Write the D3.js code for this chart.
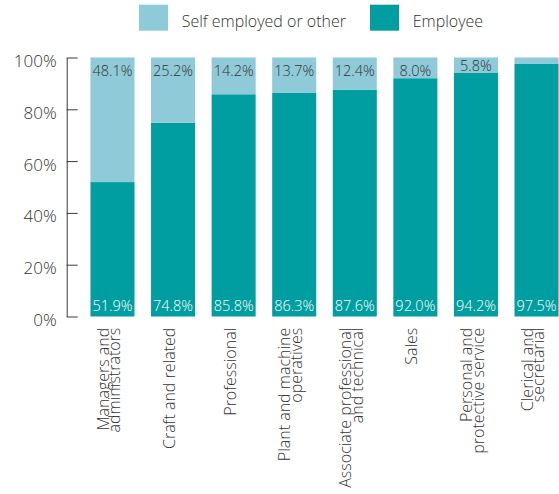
<!DOCTYPE html>
<html>
<head>
<meta charset="utf-8">
<script src="https://cdn.jsdelivr.net/npm/d3@7"></script>
<style>
  html, body { margin: 0; padding: 0; background: #ffffff; }
  svg { display: block; font-family: "Open Sans", "Noto Sans", sans-serif; font-weight: 300; }
</style>
</head>
<body>
<svg id="chart" width="559" height="494"></svg>
<script>
// Occupation groups, each split into lines for the rotated labels
const categories = [
  ["Managers and", "administrators"],
  ["Craft and related"],
  ["Professional"],
  ["Plant and machine", "operatives"],
  ["Associate professional", "and technical"],
  ["Sales"],
  ["Personal and", "protective service"],
  ["Clerical and", "secretarial"]
];

// Share of each group (%)
const employee     = [51.9, 74.8, 85.8, 86.3, 87.6, 92.0, 94.2, 97.5];
const selfEmployed = [48.1, 25.2, 14.2, 13.7, 12.4, 8.0, 5.8, 2.5];
// Value labels on the light segments (the last one has none)
const selfLabels     = ["48.1%", "25.2%", "14.2%", "13.7%", "12.4%", "8.0%", "5.8%", ""];
const employeeLabels = ["51.9%", "74.8%", "85.8%", "86.3%", "87.6%", "92.0%", "94.2%", "97.5%"];

const yTicks = [0, 20, 40, 60, 80, 100];
const seriesNames = ["Self employed or other", "Employee"];
const colors = { self: "#8ecad8", emp: "#009ea0" };

const svg = d3.select("#chart");
const keys = categories.map(c => c.join(" "));

const x = d3.scaleBand()
  .domain(keys)
  .range([82.2, 566.8])
  .paddingInner(0.273)
  .paddingOuter(0.1365);

const y = d3.scaleLinear().domain([0, 100]).range([316.5, 57.5]);

// Y axis with inward-pointing ticks
const yAxis = d3.axisLeft(y)
  .tickValues(yTicks)
  .tickFormat(d => d + "%")
  .tickSizeInner(-11)
  .tickSizeOuter(0)
  .tickPadding(10);

const gy = svg.append("g")
  .attr("transform", "translate(66.7,0)")
  .call(yAxis);
gy.selectAll("path, line").attr("stroke", "#3a3a3a").attr("stroke-width", 1);
gy.selectAll("text")
  .attr("font-family", "'Open Sans', sans-serif")
  .attr("font-size", 17)
  .attr("fill", "#333333")
  .attr("dy", "0.53em");

const rows = keys.map((k, i) => ({
  key: k, lines: categories[i],
  emp: employee[i], self: selfEmployed[i],
  selfLabel: selfLabels[i], empLabel: employeeLabels[i]
}));

// Employee segment (bottom)
svg.append("g").selectAll("rect")
  .data(rows).join("rect")
  .attr("x", d => x(d.key))
  .attr("width", x.bandwidth())
  .attr("y", d => y(d.emp))
  .attr("height", d => y(0) - y(d.emp))
  .attr("fill", colors.emp);

// Self employed segment (stacked on top)
svg.append("g").selectAll("rect")
  .data(rows).join("rect")
  .attr("x", d => x(d.key))
  .attr("width", x.bandwidth())
  .attr("y", d => y(d.emp + d.self))
  .attr("height", d => y(d.emp) - y(d.emp + d.self))
  .attr("fill", colors.self);

// Labels on the light segments
svg.append("g").selectAll("text")
  .data(rows.filter(d => d.selfLabel)).join("text")
  .attr("x", d => x(d.key) + x.bandwidth() / 2)
  .attr("y", d => Math.min(y(d.emp) - 2, y(d.emp + d.self) + 18.5))
  .attr("text-anchor", "middle")
  .attr("font-size", 14.5)
  .attr("fill", "#333333")
  .text(d => d.selfLabel);

// Labels at the foot of the dark segments
svg.append("g").selectAll("text")
  .data(rows).join("text")
  .attr("x", d => x(d.key) + x.bandwidth() / 2)
  .attr("y", y(0) - 6)
  .attr("text-anchor", "middle")
  .attr("font-size", 14.5)
  .attr("fill", "#ffffff")
  .text(d => d.empLabel);

// Rotated category labels
const cat = svg.append("g").selectAll("text")
  .data(rows).join("text")
  .attr("transform", d => `translate(${x(d.key) + x.bandwidth() / 2},327.7) rotate(-90)`)
  .attr("text-anchor", "end")
  .attr("font-size", 16)
  .attr("fill", "#333333");
cat.each(function(d) {
  const n = d.lines.length;
  d3.select(this).selectAll("tspan")
    .data(d.lines).join("tspan")
    .attr("x", 0)
    .attr("y", (l, i) => 2 + (i - (n - 1) / 2) * 11.5)
    .text(l => l);
});

// Legend
const legend = [
  { name: seriesNames[0], color: colors.self, x: 139 },
  { name: seriesNames[1], color: colors.emp, x: 370 }
];
const lg = svg.append("g").selectAll("g")
  .data(legend).join("g")
  .attr("transform", d => `translate(${d.x},4.7)`);
lg.append("rect")
  .attr("width", 29).attr("height", 26)
  .attr("fill", d => d.color);
lg.append("text")
  .attr("x", 42.7)
  .attr("y", 22)
  .attr("font-size", 16)
  .attr("fill", "#333333")
  .text(d => d.name);
</script>
</body>
</html>
